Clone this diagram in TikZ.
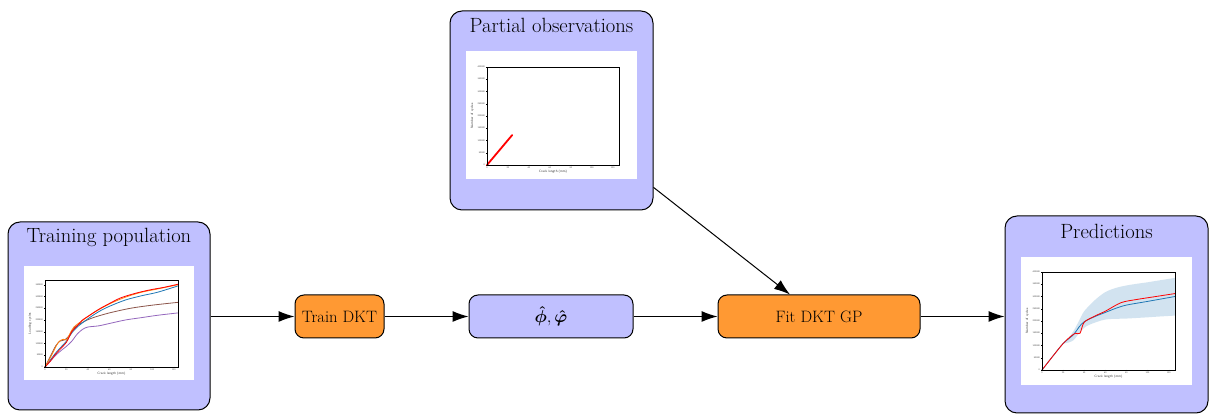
\documentclass[tikz,border=0pt]{standalone}
\usepackage{amsmath}
\usepackage{fontspec}
\usetikzlibrary{arrows.meta}
\definecolor{tabblue}{HTML}{1F77B4}
\definecolor{taborange}{HTML}{FF7F0E}
\definecolor{tabbrown}{HTML}{8C564B}
\definecolor{tabpurple}{HTML}{9467BD}
\definecolor{procfill}{HTML}{FF9933}
\definecolor{panelfill}{HTML}{C0C0FF}
\tikzset{
  panel/.style={draw=black, line width=1pt, fill=panelfill, rounded corners=12pt, inner sep=0pt},
  procbox/.style={draw=black, line width=1pt, fill=procfill, rounded corners=9pt, minimum height=43pt, inner sep=0pt, font=\fontsize{16.5}{19}\selectfont},
  parambox/.style={draw=black, line width=1pt, fill=panelfill, rounded corners=9pt, minimum height=43pt, inner sep=0pt, font=\fontsize{17}{19}\selectfont},
  paneltitle/.style={font=\fontsize{20.6}{24}\selectfont, inner sep=0pt},
  figarea/.style={fill=white, inner sep=0pt},
  arr/.style={line width=1pt, -{Latex[length=16pt,width=11pt]}},
  axisframe/.style={line width=0.7pt},
  tick/.style={line width=0.35pt},
  ticklab/.style={font=\sffamily\fontsize{2.3}{2.6}\selectfont, inner sep=0.6pt, text=black!75},
  axlab/.style={font=\sffamily\fontsize{3.3}{3.6}\selectfont, inner sep=0.5pt, text=black!80},
  curve/.style={line width=0.8pt, smooth, tension=0.5},
}
\begin{document}
\begin{tikzpicture}[x=1pt, y=1pt]
\useasboundingbox (0,0) rectangle (1211,414);

% ---------- panels ----------
\node[panel, minimum width=202pt, minimum height=188pt] (train) at (109,98) {};
\node[paneltitle] (traintitle) at (109,177) {Training population};
\node[figarea, minimum width=170pt, minimum height=114pt] (trainfig) at (109,91) {};

\node[panel, minimum width=203pt, minimum height=199pt] (partial) at (551.5,303.5) {};
\node[paneltitle] (partialtitle) at (551.5,389) {Partial observations};
\node[figarea, minimum width=171pt, minimum height=128pt] (partialfig) at (551.5,299) {};

\node[panel, minimum width=203pt, minimum height=197pt] (pred) at (1106.5,99.5) {};
\node[paneltitle] (predtitle) at (1106.5,183) {Predictions};
\node[figarea, minimum width=171pt, minimum height=128pt] (predfig) at (1106.5,93) {};

% ---------- process boxes ----------
\node[procbox, minimum width=89pt] (dkt) at (339.5,97.5) {Train DKT};
\node[parambox, minimum width=164pt] (params) at (551,97.5) {$\boldsymbol{\hat{\phi}},\boldsymbol{\hat{\varphi}}$};
\node[procbox, minimum width=202pt] (fit) at (819,97.5) {Fit DKT GP};

% ---------- connectors ----------
\draw[arr] (train.east |- dkt.west) -- (dkt.west);
\draw[arr] (dkt.east) -- (params.west);
\draw[arr] (params.east) -- (fit.west);
\draw[arr] (fit.east) -- (fit.east -| pred.west);
\draw[arr] (partial.-37) -- ([xshift=-29pt]fit.north);

% ---------- training population curves ----------
\begin{scope}[shift={(45,47)}, x=1.0726pt, y=0.2351pt]
  \foreach \v in {0,20,...,120} {
    \draw[tick] (\v,0) -- (\v,-5);
    \node[ticklab, below] at (\v,-5) {\v};
  }
  \foreach \v in {0,50,...,350} {
    \draw[tick] (0,\v) -- (-1.2,\v);
  }
  \node[ticklab, left] at (-1.2,0) {0};
  \foreach \v in {50,100,...,350} {
    \node[ticklab, left] at (-1.2,\v) {\v000};
  }
  \node[axlab] at (62,-30) {Crack length (mm)};
  \node[axlab, rotate=90] at (-14,185) {Loading cycles};
  \draw[curve, tabpurple] plot coordinates {(0,0) (5,25) (10,50) (15,70) (20,88) (25,110) (30,140) (35,160) (40,170) (50,175) (60,185) (75,200) (90,210) (105,220) (124,230)};
  \draw[curve, tabbrown] plot coordinates {(0,0) (5,45) (10,90) (14,110) (18,115) (22,130) (27,165) (35,190) (45,210) (60,230) (80,250) (100,263) (124,275)};
  \draw[curve, tabblue] plot coordinates {(0,0) (5,30) (10,60) (15,85) (20,110) (25,145) (30,170) (40,205) (50,235) (60,258) (75,285) (90,303) (105,318) (124,345)};
  \draw[curve, taborange] plot coordinates {(0,0) (5,40) (10,85) (13,108) (17,118) (20,115) (23,140) (27,170) (35,198) (45,230) (60,268) (75,297) (90,318) (105,332) (124,350)};
  \draw[curve, red] plot coordinates {(0,0) (5,25) (10,55) (15,80) (20,105) (25,150) (30,175) (35,200) (40,215) (50,245) (60,270) (70,293) (80,308) (90,320) (100,330) (110,338) (124,352)};
  \draw[axisframe] (0,0) rectangle (124,370);
\end{scope}

% ---------- partial observations ----------
\begin{scope}[shift={(487,249)}, x=1.0476pt, y=0.245pt]
  \foreach \v in {0,20,...,120} {
    \draw[tick] (\v,0) -- (\v,-5);
    \node[ticklab, below] at (\v,-5) {\v};
  }
  \foreach \v in {0,50,...,400} {
    \draw[tick] (0,\v) -- (-1.2,\v);
  }
  \node[ticklab, left] at (-1.2,0) {0};
  \foreach \v in {50,100,...,400} {
    \node[ticklab, left] at (-1.2,\v) {\v000};
  }
  \node[axlab] at (63,-28) {Crack length (mm)};
  \node[axlab, rotate=90] at (-14,200) {Number of cycles};
  \draw[line width=1.8pt, red, line cap=round] (0,0) -- (24,122);
  \draw[axisframe] (0,0) rectangle (126,400);
\end{scope}

% ---------- predictions ----------
\begin{scope}[shift={(1042,44)}, x=1.0556pt, y=0.245pt]
  \fill[tabblue, opacity=0.2] plot[smooth, tension=0.5] coordinates {(20,108) (25,130) (30,160) (35,200) (40,240) (50,285) (60,318) (70,335) (80,345) (90,352) (100,358) (110,365) (126,376)}
    -- plot[smooth, tension=0.5] coordinates {(126,222) (110,218) (100,215) (80,210) (60,206) (45,185) (40,172) (35,150) (30,122) (25,112) (20,108)} -- cycle;
  \foreach \v in {0,20,...,120} {
    \draw[tick] (\v,0) -- (\v,-5);
    \node[ticklab, below] at (\v,-5) {\v};
  }
  \foreach \v in {0,50,...,400} {
    \draw[tick] (0,\v) -- (-1.2,\v);
  }
  \node[ticklab, left] at (-1.2,0) {0};
  \foreach \v in {50,100,...,400} {
    \node[ticklab, left] at (-1.2,\v) {\v000};
  }
  \node[axlab] at (63,-28) {Crack length (mm)};
  \node[axlab, rotate=90] at (-14,200) {Number of cycles};
  \draw[curve, tabblue] plot coordinates {(0,0) (10,55) (20,108) (30,145) (35,175) (40,197) (50,218) (60,235) (70,252) (80,265) (100,280) (126,300)};
  \draw[curve, red] plot coordinates {(0,0) (10,55) (20,108) (28,140) (32,150) (36,150) (40,195) (50,220) (60,240) (75,275) (90,288) (105,298) (126,312)};
  \draw[axisframe] (0,0) rectangle (126,400);
\end{scope}
\end{tikzpicture}
\end{document}
